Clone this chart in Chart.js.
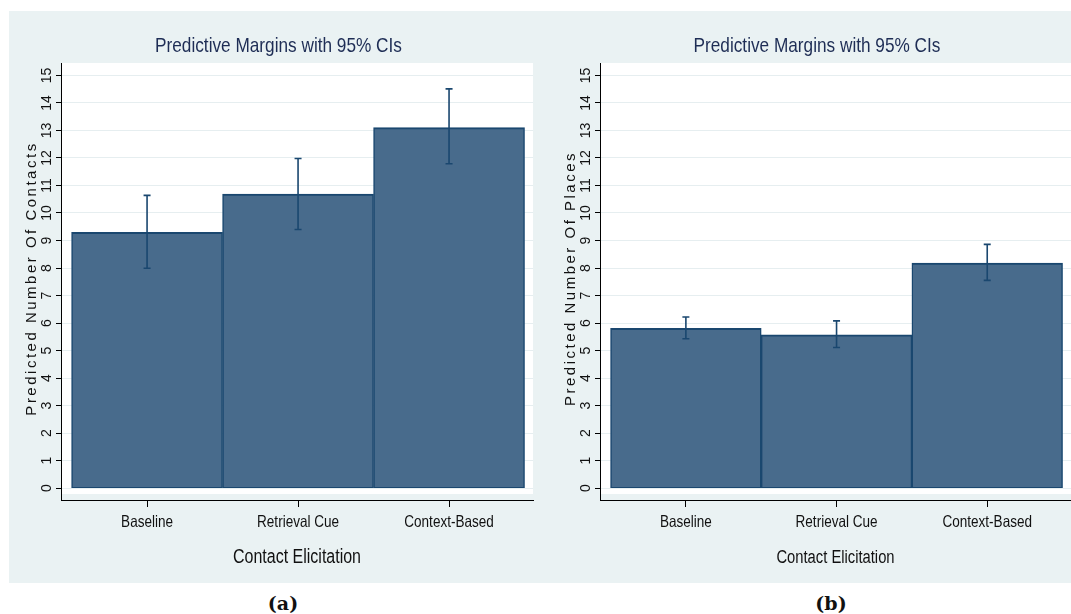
<!DOCTYPE html>
<html>
<head>
<meta charset="utf-8">
<script src="https://cdn.jsdelivr.net/npm/chart.js@4.4.1/dist/chart.umd.min.js"></script>
<style>
  html, body { margin: 0; padding: 0; background: #fff; }
  body { width: 1071px; height: 614px; position: relative; overflow: hidden; }
  #panel { position: absolute; left: 9px; top: 11px; width: 1062px; height: 572px; background: rgb(234,242,243); }
  .box { position: absolute; top: 11px; }
  #boxA { left: 9px; }
  #boxB { left: 548px; }
  .cap { position: absolute; top: 592px; line-height: 22px; font: bold 19px 'DejaVu Serif', serif; color: #111; transform: translateX(-50%); }
</style>
</head>
<body>
<div id="panel"></div>
<div class="box" id="boxA"><canvas id="chartA" width="530" height="573"></canvas></div>
<div class="box" id="boxB"><canvas id="chartB" width="523" height="573"></canvas></div>
<div class="cap" style="left:283px">(a)</div>
<div class="cap" style="left:831px">(b)</div>
<script>
// values
const categories = ['Baseline', 'Retrieval Cue', 'Context-Based'];
const yTicks = [0, 1, 2, 3, 4, 5, 6, 7, 8, 9, 10, 11, 12, 13, 14, 15];

const contactsMean = [9.30, 10.69, 13.10];
const contactsLow = [7.99, 9.40, 11.79];
const contactsHigh = [10.64, 11.98, 14.51];

const placesMean = [5.81, 5.57, 8.18];
const placesLow = [5.43, 5.11, 7.55];
const placesHigh = [6.22, 6.08, 8.86];

const sans = "'Liberation Sans', Arial, sans-serif";
const navy = 'rgb(26,71,111)';

// no narrow font installed: squeeze horizontal text to ~Arial Narrow width
const condense = {
    id: 'condense',
    beforeInit(chart) {
        const ctx = chart.ctx;
        const fill = ctx.fillText.bind(ctx);
        ctx.plainFill = fill;
        ctx.fillText = (text, x, y, maxWidth) => {
            let w = ctx.measureText(text).width * 0.82;
            if (maxWidth !== undefined) w = Math.min(w, maxWidth);
            fill(text, x, y, w);
        };
    }
};

// white plot region, stops a little above the x axis line like Stata
const plotBg = {
    id: 'plotBg',
    beforeDraw(chart) {
        const { ctx, chartArea: a } = chart;
        ctx.save();
        ctx.fillStyle = '#fff';
        ctx.fillRect(a.left + 1, a.top, a.right - a.left - 1, a.bottom - a.top - 6);
        ctx.restore();
    }
};

const errorBars = {
    id: 'errorBars',
    afterDatasetsDraw(chart, args, opts) {
        const { ctx, scales: { x, y } } = chart;
        ctx.save();
        ctx.strokeStyle = navy;
        ctx.lineWidth = 1.6;
        opts.low.forEach((lo, i) => {
            const px = x.getPixelForValue(i);
            const top = y.getPixelForValue(opts.high[i]);
            const bot = y.getPixelForValue(lo);
            ctx.beginPath();
            ctx.moveTo(px, top); ctx.lineTo(px, bot);
            ctx.moveTo(px - 3.5, top); ctx.lineTo(px + 3.5, top);
            ctx.moveTo(px - 3.5, bot); ctx.lineTo(px + 3.5, bot);
            ctx.stroke();
        });
        ctx.restore();
    }
};

// rotated y tick labels and y title (Chart.js can't rotate y ticks)
const yLabels = {
    id: 'yLabels',
    afterDraw(chart, args, opts) {
        const { ctx, scales: { y }, chartArea: a } = chart;
        ctx.save();
        ctx.fillStyle = '#111';
        ctx.textAlign = 'center';
        ctx.textBaseline = 'middle';
        ctx.font = '14px ' + sans;
        y.ticks.forEach(t => {
            ctx.save();
            ctx.translate(a.left - 14, y.getPixelForValue(t.value));
            ctx.rotate(-Math.PI / 2);
            ctx.plainFill(String(t.value), 0, 0);
            ctx.restore();
        });
        ctx.font = '15px ' + sans;
        ctx.letterSpacing = '2.5px';
        ctx.translate(a.left - 29, (a.top + a.bottom - 6) / 2);
        ctx.rotate(-Math.PI / 2);
        ctx.plainFill(opts.title, 0, 0);
        ctx.restore();
    }
};

function makeChart(id, means, lows, highs, yTitle, xTitleSize, padRight) {
    const ctx = document.getElementById(id).getContext('2d');
    return new Chart(ctx, {
        type: 'bar',
        data: {
            datasets: [{
                data: means.map((v, i) => ({ x: i, y: v })),
                backgroundColor: 'rgb(72,107,140)',
                borderColor: navy,
                borderWidth: { top: 2, left: 1.5, right: 1.5, bottom: 1 },
                borderSkipped: false,
                barPercentage: 1,
                categoryPercentage: 1
            }]
        },
        options: {
            responsive: false,
            animation: false,
            layout: { padding: { left: 15, right: padRight, top: 0, bottom: 0 } },
            plugins: {
                legend: { display: false },
                tooltip: { enabled: false },
                title: {
                    display: true,
                    text: 'Predictive Margins with 95% CIs',
                    color: 'rgb(30,45,85)',
                    font: { family: sans, size: 21, weight: 'normal' },
                    padding: { top: 22.4, bottom: 4.4 }
                },
                errorBars: { low: lows, high: highs },
                yLabels: { title: yTitle }
            },
            scales: {
                x: {
                    type: 'linear',
                    offset: false,
                    min: -0.57,
                    max: 2.556,
                    afterBuildTicks: s => { s.ticks = categories.map((c, i) => ({ value: i })); },
                    afterFit: s => { s.height = 84; },
                    ticks: {
                        callback: v => categories[v],
                        color: '#111',
                        font: { family: sans, size: 16.5 },
                        padding: 6,
                        maxRotation: 0,
                        autoSkip: false
                    },
                    grid: { offset: false, drawOnChartArea: false, drawTicks: true, tickLength: 7, tickColor: '#000' },
                    border: { display: true, color: '#000', width: 1 },
                    title: {
                        display: true,
                        text: 'Contact Elicitation',
                        color: '#111',
                        font: { family: sans, size: xTitleSize },
                        padding: { top: 0, bottom: 26 - xTitleSize * 0.6 }
                    }
                },
                y: {
                    min: -0.43,
                    max: 15.45,
                    afterBuildTicks: s => { s.ticks = yTicks.map(v => ({ value: v })); },
                    afterFit: s => { s.width = 37; },
                    ticks: { display: false },
                    grid: { color: 'rgb(230,238,240)', lineWidth: 1, drawTicks: true, tickLength: 5, tickColor: '#000' },
                    border: { display: true, color: '#000', width: 1 }
                }
            }
        },
        plugins: [condense, plotBg, errorBars, yLabels]
    });
}

makeChart('chartA', contactsMean, contactsLow, contactsHigh, 'Predicted Number Of Contacts', 19.5, 6);
makeChart('chartB', placesMean, placesLow, placesHigh, 'Predicted Number Of Places', 18, 0);
</script>
</body>
</html>
